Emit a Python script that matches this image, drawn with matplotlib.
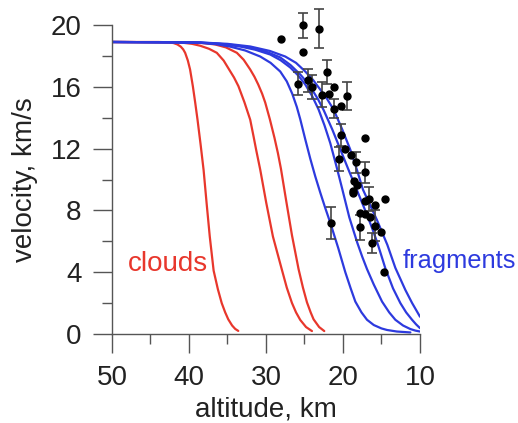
import numpy as np
import matplotlib
matplotlib.use("Agg")
import matplotlib.pyplot as plt
from matplotlib.ticker import MultipleLocator

plt.rcParams['font.family'] = ['Liberation Sans', 'DejaVu Sans']

# model curves: altitude (km) vs velocity (km/s)
red1_alt = [50, 44, 42.6, 42.0, 41.5, 41.07, 40.75, 40.5, 40.15, 39.86, 39.5, 39.2, 38.9, 38.5, 38.1,
            37.7, 37.3, 36.8, 36.25, 35.75, 35.3, 34.9, 34.4, 34.0, 33.6]
red1_v = [18.9, 18.9, 18.88, 18.83, 18.74, 18.6, 18.42, 18.2, 17.7, 17.12, 16.04, 15.0, 13.9, 12.3, 10.6,
          8.4, 6.3, 4.1, 2.9, 2.0, 1.4, 0.95, 0.55, 0.33, 0.2]

red2_alt = [50, 42, 40.77, 39.6, 38.56, 37.4, 36.39, 35.5, 34.79, 34.15, 33.58, 32.8, 32.05, 31.6, 31.27,
            30.75, 29.97, 29.1, 28.5, 27.93, 27.3, 26.63, 26.1, 25.55, 24.8, 24.03]
red2_v = [18.9, 18.88, 18.85, 18.78, 18.66, 18.46, 18.2, 17.7, 17.12, 16.6, 16.04, 15.0, 13.87, 12.75, 11.9,
          10.64, 8.5, 6.31, 5.2, 4.15, 3.0, 2.01, 1.4, 0.91, 0.45, 0.19]

red3_alt = [50, 42, 39.47, 38.0, 36.6, 35.2, 33.78, 32.9, 32.05, 31.5, 31.01, 30.5, 30.1, 29.5, 28.9,
            28.45, 28.06, 27.37, 26.63, 25.77, 25.2, 24.68, 24.2, 23.82, 23.1, 22.43]
red3_v = [18.9, 18.88, 18.87, 18.82, 18.74, 18.55, 18.2, 17.75, 17.12, 16.65, 16.15, 15.55, 14.98, 13.9, 12.7,
          11.7, 10.7, 8.6, 6.4, 4.2, 3.0, 2.05, 1.4, 0.95, 0.45, 0.19]

blue1_alt = [50, 42, 38.56, 36.5, 34.65, 32.7, 30.75, 29.4, 28.15, 27.3, 26.59, 26.0, 25.55, 24.9, 24.25,
             23.6, 22.95, 22.3, 21.65, 20.61, 19.7, 19.0, 18.4, 17.6, 16.88, 16.0, 15.0, 14.28, 13.0, 11.25]
blue1_v = [18.9, 18.88, 18.85, 18.76, 18.6, 18.35, 17.96, 17.55, 16.99, 16.35, 15.55, 14.7, 13.9, 12.6, 11.35,
           10.2, 9.15, 8.15, 7.2, 5.55, 4.0, 2.95, 2.1, 1.4, 0.92, 0.58, 0.36, 0.26, 0.16, 0.1]

blue2_alt = [50, 42, 38.56, 36.0, 33.35, 31.4, 29.45, 28.1, 26.85, 25.85, 24.9, 24.0, 23.17, 22.4, 21.65,
             20.9, 20.13, 19.18, 18.14, 17.5, 16.88, 16.0, 14.93, 14.0, 13.2, 12.2, 11.25, 10.6, 10.0]
blue2_v = [18.9, 18.88, 18.87, 18.78, 18.61, 18.4, 18.09, 17.72, 17.25, 16.75, 16.15, 15.4, 14.53, 13.5, 12.35,
           10.95, 9.45, 7.55, 5.9, 5.0, 4.2, 3.2, 2.1, 1.4, 0.92, 0.55, 0.32, 0.22, 0.16]

blue3_alt = [50, 42, 38.56, 35.0, 32.05, 30.0, 28.15, 26.8, 25.55, 24.7, 23.99, 23.25, 22.52, 21.4, 20.35,
             19.3, 18.18, 17.4, 16.67, 16.0, 15.54, 15.0, 14.5, 13.5, 12.55, 11.8, 11.03, 10.5, 10.0]
blue3_v = [18.9, 18.88, 18.85, 18.75, 18.55, 18.28, 17.9, 17.4, 16.8, 16.3, 15.8, 15.2, 14.5, 13.25, 11.95,
           10.65, 9.3, 8.35, 7.45, 6.55, 5.9, 5.05, 4.25, 2.95, 2.0, 1.4, 0.92, 0.62, 0.38]

blue4_alt = [50, 42, 38.56, 35.0, 32.05, 29.5, 27.5, 26.1, 24.9, 23.9, 22.95, 22.05, 21.22, 20.09, 19.05,
             18.2, 17.4, 16.51, 15.6, 14.24, 13.2, 11.9, 11.03, 10.0]
blue4_v = [18.9, 18.88, 18.87, 18.78, 18.61, 18.32, 17.96, 17.55, 16.99, 16.45, 15.82, 15.2, 14.53, 13.23, 11.93,
           10.64, 9.34, 8.37, 7.39, 5.77, 4.28, 2.85, 2.01, 1.12]

# observed fragments (0 = no error bar)
obs_alt = [28.02, 25.2, 23.12, 25.2, 25.9, 24.55, 24.03, 22.08, 22.73, 21.87, 21.13, 19.48, 21.22,
           20.22, 20.26, 17.1, 19.79, 20.57, 18.96, 18.31, 17.1, 18.62, 18.18, 18.76, 16.67, 17.1,
           14.5, 15.8, 21.56, 17.75, 17.1, 17.75, 16.54, 15.8, 15.06, 16.23, 14.73, 18.7]
obs_v = [19.11, 19.97, 19.76, 18.24, 16.21, 16.41, 16.0, 16.95, 15.5, 15.54, 15.97, 15.39, 14.57,
         14.74, 12.9, 12.69, 11.98, 11.33, 11.61, 11.11, 10.46, 9.88, 9.66, 9.23, 8.74, 8.58,
         8.74, 8.37, 7.18, 7.83, 7.78, 6.92, 7.57, 7.0, 6.61, 5.88, 4.04, 9.12]
obs_err = [0, 0.78, 1.27, 0, 0.76, 0.76, 0.78, 0.78, 0.78, 0, 0, 0.92, 0.62,
           0, 0.7, 0, 0, 0.78, 0, 0.7, 0.7, 0, 0, 0, 0.8, 0,
           0, 0, 1.04, 0, 0, 0.81, 0, 1.0, 0, 0.65, 0, 0]

RED = '#e8372c'
BLUE = '#2d3ade'

fig = plt.figure(figsize=(5.18, 4.23), dpi=100)
ax = fig.add_axes([0.2162, 0.2104, 0.5946, 0.7305])

for a, v in [(red1_alt, red1_v), (red2_alt, red2_v), (red3_alt, red3_v)]:
    ax.plot(a, v, color=RED, lw=1.6, solid_capstyle='round', solid_joinstyle='round')
for a, v in [(blue1_alt, blue1_v), (blue2_alt, blue2_v), (blue3_alt, blue3_v), (blue4_alt, blue4_v)]:
    ax.plot(a, v, color=BLUE, lw=1.6, solid_capstyle='round', solid_joinstyle='round')

alt = np.array(obs_alt)
vel = np.array(obs_v)
err = np.array(obs_err)
has = err > 0
eb = ax.errorbar(alt[has], vel[has], yerr=err[has], fmt='none', ecolor='#444444',
                 elinewidth=1.2, capsize=3.5, capthick=1.2, zorder=3)
for art in eb.lines[1] + eb.lines[2]:
    art.set_clip_on(False)
ax.plot(alt, vel, 'o', color='black', ms=5, zorder=4, clip_on=False)

ax.text(42.7, 4.5, 'clouds', color=RED, fontsize=20, ha='center', va='center')
ax.text(12.2, 4.7, 'fragments', color=BLUE, fontsize=18.3, ha='left', va='center', clip_on=False)

ax.set_xlim(50, 10)
ax.set_ylim(0, 20)
ax.xaxis.set_major_locator(MultipleLocator(10))
ax.xaxis.set_minor_locator(MultipleLocator(5))
ax.yaxis.set_major_locator(MultipleLocator(4))
ax.yaxis.set_minor_locator(MultipleLocator(2))

for s in ['top', 'right']:
    ax.spines[s].set_visible(False)
for s in ['left', 'bottom']:
    ax.spines[s].set_color('#555555')
    ax.spines[s].set_linewidth(1.0)

ax.tick_params(which='both', direction='out', color='#555555', width=1.0, labelsize=20,
               labelcolor='#222222')
ax.tick_params(which='major', length=14, pad=8)
ax.tick_params(which='minor', length=7.5)

ax.set_xlabel('altitude, km', fontsize=20, labelpad=4, color='#222222')
ax.set_ylabel('velocity, km/s', fontsize=20, labelpad=9, color='#222222')

fig.savefig('out.png', dpi=100)
